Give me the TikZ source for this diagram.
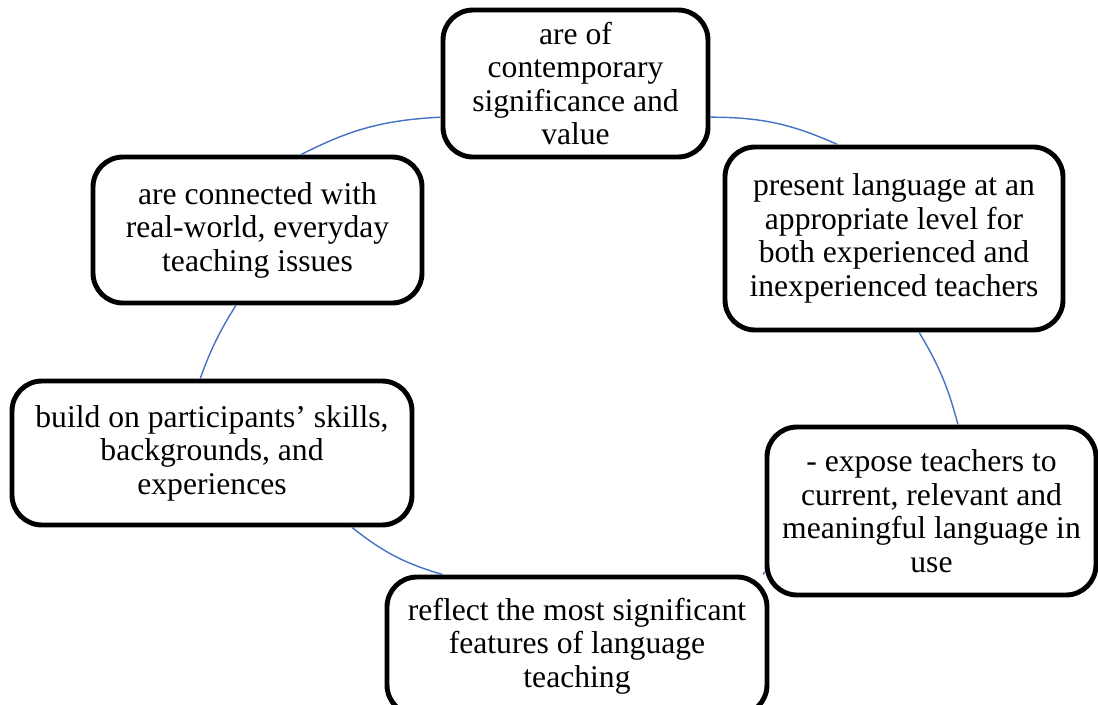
\documentclass[tikz,border=0pt]{standalone}
\usepackage{fontspec}
\setmainfont{Liberation Serif}
\usepackage{tikz}
\usepackage{xcolor}
\definecolor{ColWhite}{RGB}{255,255,255}
\definecolor{ColLine}{RGB}{0,0,0}
\definecolor{ColArc}{RGB}{68,114,196}
\tikzstyle{NodeBox}=[rectangle,rounded corners=0.6cm,draw=ColLine,fill=ColWhite,line width=2.8pt,
inner sep=1pt,align=center,font=\fontsize{18}{19.1}\selectfont]
\tikzstyle{EdgeArc}=[ColArc,line width=0.8pt]

\begin{document}
\begin{tikzpicture}
        \useasboundingbox(0,0)rectangle(21.96,-14.08);
        \node[NodeBox,minimum width=5.3cm,minimum height=2.94cm](n1)at(11.51,-1.67)
            {are of\\contemporary\\significance and\\value};
        \node[NodeBox,minimum width=6.76cm,minimum height=3.66cm](n2)at(17.88,-4.77)
            {present language at an\\appropriate level for\\both experienced and\\inexperienced teachers};
        \node[NodeBox,minimum width=6.58cm,minimum height=3.36cm](n3)at(18.63,-10.22)
            {- expose teachers to\\current, relevant and\\meaningful language in\\use};
        \node[NodeBox,minimum width=7.6cm,minimum height=2.76cm](n4)at(11.54,-12.92)
            {reflect the most significant\\features of language\\teaching};
        \node[NodeBox,minimum width=8.0cm,minimum height=2.88cm](n5)at(4.24,-9.06)
            {build on participants’ skills,\\backgrounds, and\\experiences};
        \node[NodeBox,minimum width=6.58cm,minimum height=2.92cm](n6)at(5.15,-4.6)
            {are connected with\\real-world, everyday\\teaching issues};
        \draw[EdgeArc](n1.346)to[bend left=12](n2.121);
        \draw[EdgeArc](n2.285)to[bend left=8](n3.73);
        \draw[EdgeArc](n3.200)to[bend left=3](n4.21);
        \draw[EdgeArc](n4.152)to[bend left=11](n5.332);
        \draw[EdgeArc](n5.99)to[bend left=6](n6.254);
        \draw[EdgeArc](n6.60)to[bend left=12](n1.194);
    \end{tikzpicture}
\end{document}
